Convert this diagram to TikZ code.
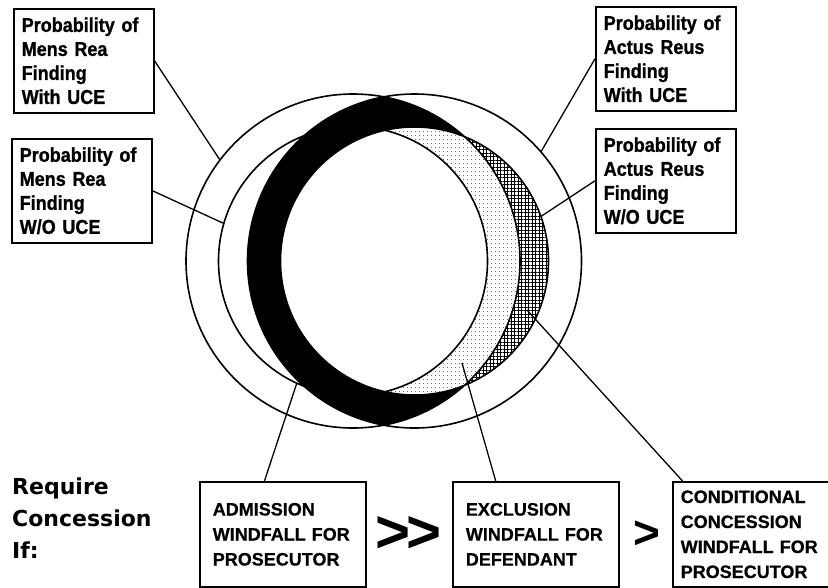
\documentclass[tikz,border=0pt]{standalone}
\usepackage{fontspec}
\setmainfont{Liberation Sans}
\newfontfamily\labfont[FakeStretch=0.9,FakeBold=1]{Liberation Sans}
\newfontfamily\capfont[FakeBold=0.6]{Liberation Sans}
\newfontfamily\reqfont{DejaVu Sans}
\usetikzlibrary{positioning,patterns.meta,calc}

\begin{document}
\begin{tikzpicture}[
  x=1pt, y=-1pt,
  pbox/.style={draw, line width=1.5pt, anchor=north west, align=left,
    text width=124pt, inner xsep=8pt, minimum height=104pt,
    font=\labfont\bfseries\fontsize{20}{24}\selectfont},
  wbox/.style={draw, line width=1.6pt, anchor=north west, align=left,
    text width=140pt, inner xsep=13pt, minimum height=105pt,
    font=\capfont\bfseries\fontsize{18}{25}\selectfont},
  gt/.style={inner sep=0pt, font=\bfseries\fontsize{60}{60}\selectfont},
  ring/.style={line width=1.6pt},
  lead/.style={line width=1.3pt}
]
\useasboundingbox (0,0) rectangle (828,587);

\coordinate (mens) at (353,261);
\coordinate (actus) at (414.5,261);

% windfall regions
\begin{scope}
  \clip (mens) circle[radius=167pt];
  \fill (actus) circle[radius=167pt];
\end{scope}
\fill[white] (actus) circle[radius=134pt];
\fill[pattern={Hatch[distance=3.5pt,line width=0.45pt]}] (actus) circle[radius=134pt];
\begin{scope}
  \clip (mens) circle[radius=167pt];
  \fill[white] (actus) circle[radius=134pt];
  \fill[pattern={Dots[distance=4pt,radius=0.55pt]}] (actus) circle[radius=134pt];
  \clip (mens) circle[radius=134.5pt];
  \fill[white] (actus) circle[radius=134pt];
\end{scope}

% probability circles
\draw[ring] (mens) circle[radius=167pt] (mens) circle[radius=134.5pt]
  (actus) circle[radius=167pt] (actus) circle[radius=134pt];

\coordinate (p1) at ($(mens)+(142.8:167pt)$);
\coordinate (p2) at ($(mens)+(163.8:134.5pt)$);
\coordinate (p3) at ($(actus)+(40.8:167pt)$);
\coordinate (p4) at ($(actus)+(19.4:134pt)$);
\coordinate (q1) at ($(mens)+(245.3:134.5pt)$);
\coordinate (q2) at (462,363);
\coordinate (q3) at (527,310);

\node[pbox] (mrwith) at (13,8) {Probability of\\Mens Rea\\Finding\\With UCE};
\node[pbox] (mrwo) at (11,138) {Probability of\\Mens Rea\\Finding\\W/O UCE};
\node[pbox] (arwith) at (595,6) {Probability of\\Actus Reus\\Finding\\With UCE};
\node[pbox] (arwo) at (595,128) {Probability of\\Actus Reus\\Finding\\W/O UCE};

\node[anchor=north west, align=left, inner sep=0pt,
  font=\reqfont\bfseries\fontsize{22}{32}\selectfont] (req) at (12,478)
  {Require\\Concession\\If:};

\node[wbox] (adm) at (199,481) {ADMISSION\\WINDFALL FOR\\PROSECUTOR};
\node[gt, right=9pt of adm] (gg) {>\kern-4pt>};
\node[wbox, right=10pt of gg] (exc) {EXCLUSION\\WINDFALL FOR\\DEFENDANT};
\node[gt, font=\bfseries\fontsize{46}{46}\selectfont, right=14pt of exc] (gtr) {>};
\node[wbox, inner xsep=8pt, right=11pt of gtr] (con) {CONDITIONAL\\CONCESSION\\WINDFALL FOR\\PROSECUTOR};

\path
% circles
(mrwith.east) edge[lead] (p1)
(mrwo.east) edge[lead] (p2)
(arwith.west) edge[lead] (p3)
(arwo.west) edge[lead] (p4)

% windfalls
(adm.109) edge[lead] (q1)
(exc.127) edge[lead] (q2)
(con.142) edge[lead] (q3)
;

\end{tikzpicture}
\end{document}
